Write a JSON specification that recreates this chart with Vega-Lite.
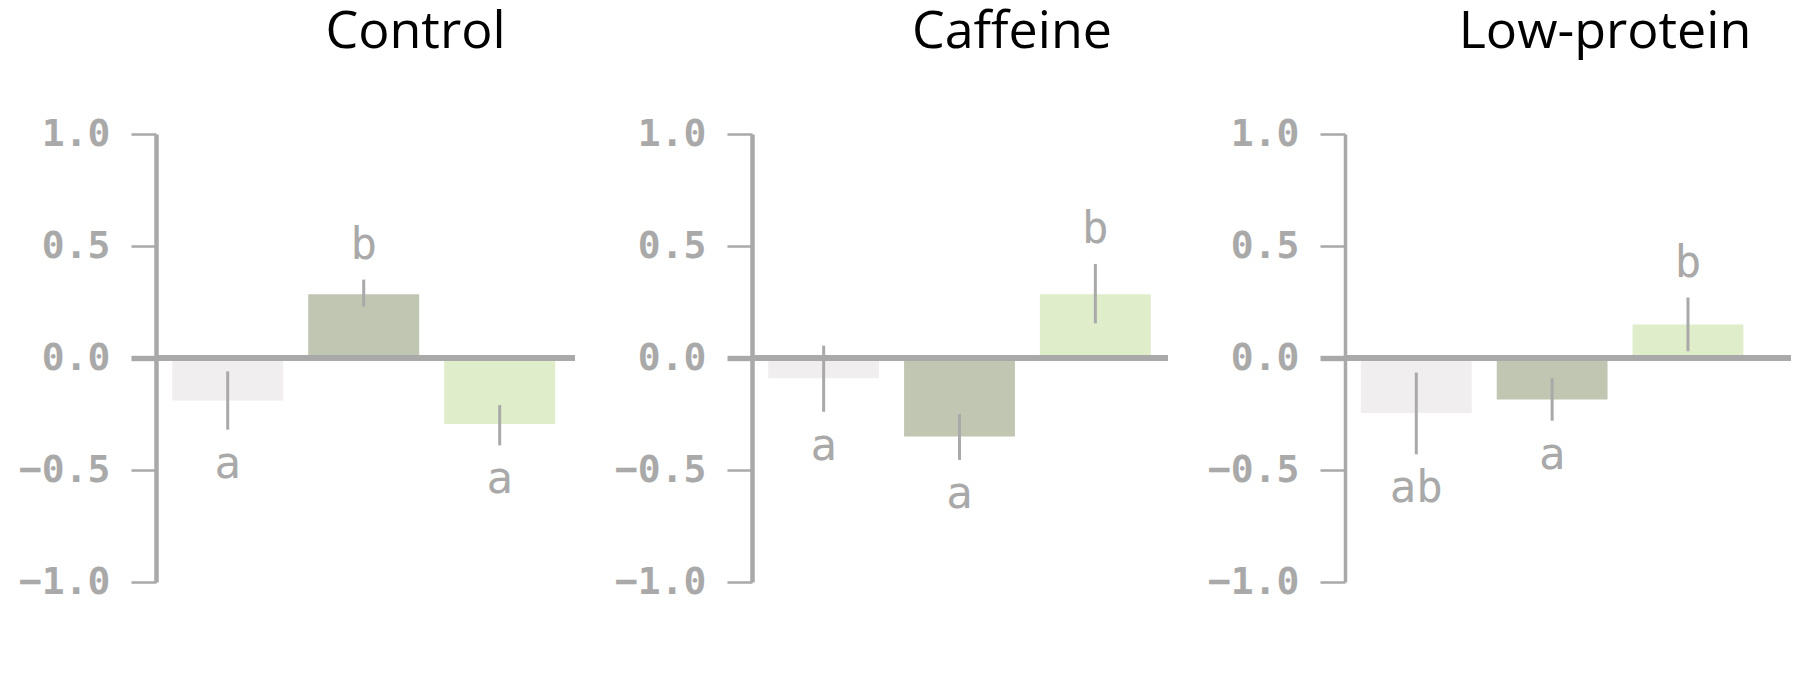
{
  "$schema": "https://vega.github.io/schema/vega-lite/v6.json",
  "background": "white",
  "padding": {"left": 6, "top": 6, "right": 5, "bottom": 5},
  "spacing": 24,
  "data": {
    "values": [
      {"group": "Control", "bar": "1", "mean": -0.19, "lo": -0.32, "hi": -0.06, "letter": "a"},
      {"group": "Control", "bar": "2", "mean": 0.285, "lo": 0.23, "hi": 0.35, "letter": "b"},
      {"group": "Control", "bar": "3", "mean": -0.295, "lo": -0.39, "hi": -0.21, "letter": "a"},
      {"group": "Caffeine", "bar": "1", "mean": -0.09, "lo": -0.24, "hi": 0.055, "letter": "a"},
      {"group": "Caffeine", "bar": "2", "mean": -0.35, "lo": -0.455, "hi": -0.25, "letter": "a"},
      {"group": "Caffeine", "bar": "3", "mean": 0.285, "lo": 0.155, "hi": 0.42, "letter": "b"},
      {"group": "Low-protein", "bar": "1", "mean": -0.245, "lo": -0.43, "hi": -0.065, "letter": "ab"},
      {"group": "Low-protein", "bar": "2", "mean": -0.185, "lo": -0.28, "hi": -0.09, "letter": "a"},
      {"group": "Low-protein", "bar": "3", "mean": 0.15, "lo": 0.03, "hi": 0.27, "letter": "b"}
    ]
  },
  "config": {
    "view": {"stroke": null},
    "title": {"font": "Open Sans", "fontSize": 52, "fontWeight": "normal", "color": "#000000", "anchor": "middle", "offset": 56},
    "axisY": {"format": ".1f", "grid": false, "domainColor": "#a9a9a9", "domainWidth": 4.5, "tickColor": "#a9a9a9", "tickSize": 25, "tickWidth": {"condition": {"test": "datum.value === 0", "value": 5.4}, "value": 2.5}, "labelFont": "DejaVu Sans Mono", "labelFontWeight": "bold", "labelFontSize": 38, "labelColor": "#a9a9a9", "labelPadding": 21, "minExtent": 150, "maxExtent": 150, "title": null}
  },
  "hconcat": [
    {
      "title": {"text": "Control", "dx": 50},
      "width": 419, "height": 448,
      "transform": [{"filter": "datum.group === 'Control'"}],
      "layer": [
        {
          "mark": {"type": "bar"},
          "encoding": {
            "x": {"field": "bar", "type": "nominal", "axis": null, "scale": {"paddingInner": 0.184, "paddingOuter": 0.1325, "align": 0.45}},
            "y": {"field": "mean", "type": "quantitative", "title": null, "scale": {"domain": [-1, 1], "nice": false}, "axis": {"values": [-1, -0.5, 0, 0.5, 1]}},
            "color": {"field": "bar", "type": "nominal", "legend": null, "scale": {"domain": ["1", "2", "3"], "range": ["#f0eeef", "#c1c6b2", "#e0edca"]}}
          }
        },
        {"mark": {"type": "rule", "color": "#a9a9a9", "strokeWidth": 5.4}, "encoding": {"y": {"datum": 0, "title": null}}},
        {
          "mark": {"type": "rule", "color": "#a9a9a9", "strokeWidth": 3},
          "encoding": {"x": {"field": "bar", "type": "nominal"}, "y": {"field": "lo", "type": "quantitative", "title": null}, "y2": {"field": "hi"}}
        },
        {
          "transform": [{"filter": "datum.mean > 0"}],
          "mark": {"type": "text", "font": "DejaVu Sans Mono", "fontSize": 44, "color": "#a9a9a9", "baseline": "alphabetic", "dy": -21},
          "encoding": {"x": {"field": "bar", "type": "nominal"}, "y": {"field": "hi", "type": "quantitative", "title": null}, "text": {"field": "letter"}}
        },
        {
          "transform": [{"filter": "datum.mean < 0"}],
          "mark": {"type": "text", "font": "DejaVu Sans Mono", "fontSize": 44, "color": "#a9a9a9", "baseline": "alphabetic", "dy": 48},
          "encoding": {"x": {"field": "bar", "type": "nominal"}, "y": {"field": "lo", "type": "quantitative", "title": null}, "text": {"field": "letter"}}
        }
      ]
    },
    {
      "title": {"text": "Caffeine", "dx": 52},
      "width": 416, "height": 448,
      "transform": [{"filter": "datum.group === 'Caffeine'"}],
      "layer": [
        {
          "mark": {"type": "bar"},
          "encoding": {
            "x": {"field": "bar", "type": "nominal", "axis": null, "scale": {"paddingInner": 0.184, "paddingOuter": 0.123, "align": 0.485}},
            "y": {"field": "mean", "type": "quantitative", "title": null, "scale": {"domain": [-1, 1], "nice": false}, "axis": {"values": [-1, -0.5, 0, 0.5, 1]}},
            "color": {"field": "bar", "type": "nominal", "legend": null, "scale": {"domain": ["1", "2", "3"], "range": ["#f0eeef", "#c1c6b2", "#e0edca"]}}
          }
        },
        {"mark": {"type": "rule", "color": "#a9a9a9", "strokeWidth": 5.4}, "encoding": {"y": {"datum": 0, "title": null}}},
        {
          "mark": {"type": "rule", "color": "#a9a9a9", "strokeWidth": 3},
          "encoding": {"x": {"field": "bar", "type": "nominal"}, "y": {"field": "lo", "type": "quantitative", "title": null}, "y2": {"field": "hi"}}
        },
        {
          "transform": [{"filter": "datum.mean > 0"}],
          "mark": {"type": "text", "font": "DejaVu Sans Mono", "fontSize": 44, "color": "#a9a9a9", "baseline": "alphabetic", "dy": -21},
          "encoding": {"x": {"field": "bar", "type": "nominal"}, "y": {"field": "hi", "type": "quantitative", "title": null}, "text": {"field": "letter"}}
        },
        {
          "transform": [{"filter": "datum.mean < 0"}],
          "mark": {"type": "text", "font": "DejaVu Sans Mono", "fontSize": 44, "color": "#a9a9a9", "baseline": "alphabetic", "dy": 48},
          "encoding": {"x": {"field": "bar", "type": "nominal"}, "y": {"field": "lo", "type": "quantitative", "title": null}, "text": {"field": "letter"}}
        }
      ]
    },
    {
      "title": {"text": "Low-protein", "dx": 37},
      "width": 446, "height": 448,
      "transform": [{"filter": "datum.group === 'Low-protein'"}],
      "layer": [
        {
          "mark": {"type": "bar"},
          "encoding": {
            "x": {"field": "bar", "type": "nominal", "axis": null, "scale": {"paddingInner": 0.184, "paddingOuter": 0.2335, "align": 0.25}},
            "y": {"field": "mean", "type": "quantitative", "title": null, "scale": {"domain": [-1, 1], "nice": false}, "axis": {"values": [-1, -0.5, 0, 0.5, 1], "domainWidth": 3.5}},
            "color": {"field": "bar", "type": "nominal", "legend": null, "scale": {"domain": ["1", "2", "3"], "range": ["#f0eeef", "#c1c6b2", "#e0edca"]}}
          }
        },
        {"mark": {"type": "rule", "color": "#a9a9a9", "strokeWidth": 5.4}, "encoding": {"y": {"datum": 0, "title": null}}},
        {
          "mark": {"type": "rule", "color": "#a9a9a9", "strokeWidth": 3},
          "encoding": {"x": {"field": "bar", "type": "nominal"}, "y": {"field": "lo", "type": "quantitative", "title": null}, "y2": {"field": "hi"}}
        },
        {
          "transform": [{"filter": "datum.mean > 0"}],
          "mark": {"type": "text", "font": "DejaVu Sans Mono", "fontSize": 44, "color": "#a9a9a9", "baseline": "alphabetic", "dy": -21},
          "encoding": {"x": {"field": "bar", "type": "nominal"}, "y": {"field": "hi", "type": "quantitative", "title": null}, "text": {"field": "letter"}}
        },
        {
          "transform": [{"filter": "datum.mean < 0"}],
          "mark": {"type": "text", "font": "DejaVu Sans Mono", "fontSize": 44, "color": "#a9a9a9", "baseline": "alphabetic", "dy": 48},
          "encoding": {"x": {"field": "bar", "type": "nominal"}, "y": {"field": "lo", "type": "quantitative", "title": null}, "text": {"field": "letter"}}
        }
      ]
    }
  ]
}
